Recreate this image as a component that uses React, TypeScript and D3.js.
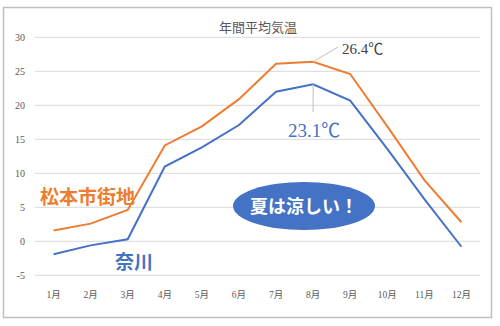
import React from "react";
import * as d3 from "d3";

const months = ["1月", "2月", "3月", "4月", "5月", "6月", "7月", "8月", "9月", "10月", "11月", "12月"];
const matsumoto = [1.6, 2.6, 4.6, 14.1, 16.9, 20.9, 26.1, 26.4, 24.6, 16.9, 9.0, 2.8];
const nagawa = [-1.9, -0.6, 0.3, 11.0, 13.8, 17.1, 22.0, 23.1, 20.7, 13.6, 6.2, -0.8];
const yTicks = [-5, 0, 5, 10, 15, 20, 25, 30];

const W = 500;
const H = 326;
const orange = "#ed7d31";
const blue = "#4472c4";
const serif = "'Liberation Serif', 'Noto Sans CJK JP', serif";
const jp = "'Noto Sans CJK JP', sans-serif";

export default function App() {
  const x = d3.scaleBand<string>().domain(months).range([35, 480]);
  const y = d3.scaleLinear().domain([-5, 30]).range([275.3, 37.3]);
  const cx = (i: number) => (x(months[i]) as number) + x.bandwidth() / 2;

  const line = d3
    .line<number>()
    .x((_, i) => cx(i))
    .y((v) => y(v));

  const aug = 7;

  return (
    <svg width={W} height={H} style={{ position: "absolute", left: 0, top: 0 }}>
      <rect x={0} y={0} width={W} height={H} fill="#fff" />
      <rect x={3.5} y={7.5} width={488} height={310} fill="#fff" stroke="#bfbfbf" strokeWidth={1.5} />
      <text x={258} y={32} textAnchor="middle" fontSize={13} fill="#595959" fontFamily={jp}>
        年間平均気温
      </text>
      {yTicks.map((t) => (
        <g key={t}>
          <line x1={35} x2={480} y1={y(t)} y2={y(t)} stroke="#d9d9d9" strokeWidth={1} />
          <text x={25} y={y(t) + 3.5} textAnchor="end" fontSize={10} fill="#595959" fontFamily={serif}>
            {t}
          </text>
        </g>
      ))}
      {months.map((m, i) => (
        <text key={m} x={cx(i)} y={298} textAnchor="middle" fontSize={9.5} fill="#595959" fontFamily={serif}>
          {m}
        </text>
      ))}
      <path d={line(matsumoto) || ""} fill="none" stroke={orange} strokeWidth={2} />
      <path d={line(nagawa) || ""} fill="none" stroke={blue} strokeWidth={2} />

      <line x1={cx(aug)} y1={y(matsumoto[aug])} x2={338} y2={47} stroke="#bfbfbf" strokeWidth={1} />
      <text x={342} y={54} fontSize={15} fill="#404040" fontFamily={serif}>
        {matsumoto[aug]}℃
      </text>
      <line x1={cx(aug)} y1={y(nagawa[aug])} x2={cx(aug)} y2={112} stroke="#bfbfbf" strokeWidth={1} />
      <text x={288} y={137} fontSize={19} fill={blue} fontFamily={serif}>
        {nagawa[aug]}℃
      </text>

      <text x={40} y={204} fontSize={19} fontWeight="bold" fill={orange} fontFamily={jp}>
        松本市街地
      </text>
      <text x={115} y={269} fontSize={19} fontWeight="bold" fill={blue} fontFamily={jp}>
        奈川
      </text>

      <ellipse cx={304} cy={206} rx={71} ry={24} fill={blue} />
      <text x={304} y={213} textAnchor="middle" fontSize={18} fontWeight="bold" fill="#fff" fontFamily={jp}>
        夏は涼しい！
      </text>
    </svg>
  );
}
